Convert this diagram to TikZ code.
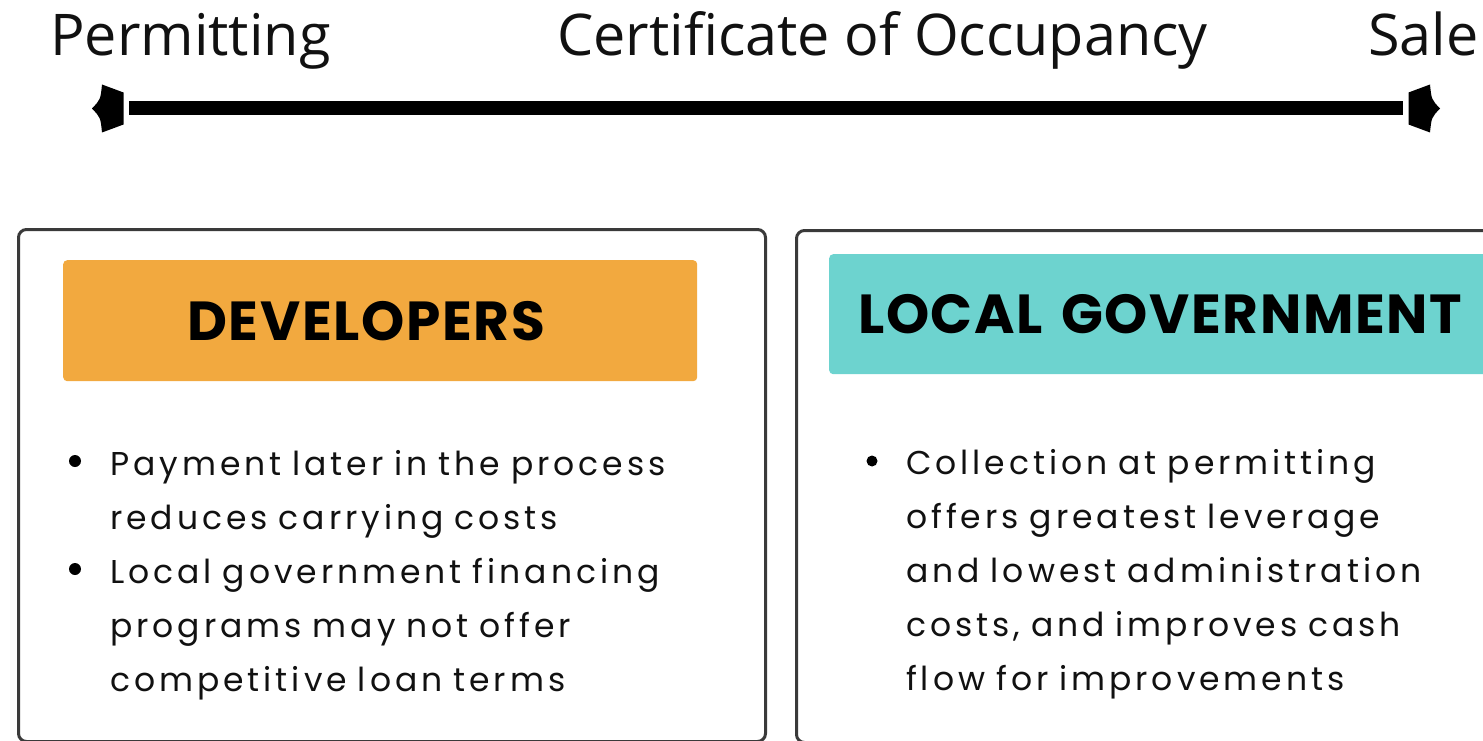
\documentclass[tikz,border=0pt]{standalone}
\usepackage{fontspec}
\setmainfont{Poppins}[LetterSpace=12, WordSpace=1.3]
\newfontfamily\headfont{Poppins}[LetterSpace=3]
\newfontfamily\stagefont{Open Sans}
\usetikzlibrary{positioning}

\definecolor{devorange}{HTML}{F2A93F}
\definecolor{govteal}{HTML}{6DD3CF}
\definecolor{panelgray}{HTML}{3A3A3A}
\definecolor{ink}{HTML}{111111}

\tikzset{
  stage/.style={anchor=base west, inner sep=0, text=ink,
    font=\stagefont\fontsize{57.5}{60}\selectfont},
  panel/.style={draw=panelgray, line width=3pt, rounded corners=8pt,
    minimum width=747pt, minimum height=512pt, inner sep=0},
  header/.style={rounded corners=4pt, minimum height=121pt, align=left,
    inner ysep=0, text=black, font=\headfont\bfseries\fontsize{55}{60}\selectfont},
  bodytext/.style={anchor=base west, inner sep=0, text width=650pt,
    align=left, text=ink, font=\fontsize{33}{54}\selectfont},
  dot/.style={circle, fill=black, inner sep=0, minimum size=12pt},
  pics/tlcap/.style={code={
    \fill (0,-16) -- (-21.5,-24) .. controls (-23,-9) .. (-31.5,0)
      .. controls (-23,9) .. (-21.5,24) -- (0,16) -- cycle;
  }}
}

\begin{document}
\begin{tikzpicture}[x=1pt, y=-1pt]
    \useasboundingbox (0,0) rectangle (1483,741);
    \clip (0,0) rectangle (1483,741);

    % timeline
    \node[stage] (permit) at (50,56) {Permitting};
    \node[stage] (occup) at (557,56) {Certificate of Occupancy};
    \node[stage] (sale) at (1368,56) {Sale};
    \coordinate (tlstart) at (129,108.5);
    \coordinate (tlend) at (1403,108.5);
    \coordinate (capL) at (123.5,108.5);
    \coordinate (capR) at (1408.5,108.5);
    \draw[line width=14pt] (tlstart) -- (tlend);
    \pic at (capL) {tlcap};
    \pic[xscale=-1] at (capR) {tlcap};

    % panels
    \node[panel, anchor=north west] (devpanel) at (17,228) {};
    \node[panel, anchor=north west] (govpanel) at (795,229) {};
    \node[header, fill=devorange, text width=386pt, inner xsep=124pt,
      below right=32pt and 46pt of devpanel.north west] (devhead) {DEVELOPERS};
    \node[header, fill=govteal, minimum height=120pt, text width=660pt, inner xsep=29pt,
      below right=25pt and 34pt of govpanel.north west] (govhead) {LOCAL GOVERNMENT};

    % bullet points
    \node[bodytext] (devA) at (110,475) {Payment later in the process\\reduces carrying costs};
    \node[bodytext] (devB) at (110,583) {Local government financing\\programs may not offer\\competitive loan terms};
    \node[bodytext] (govA) at (906,474) {Collection at permitting\\offers greatest leverage\\and lowest administration\\costs, and improves cash\\flow for improvements};
    \node[dot, xshift=-35pt, yshift=14pt] (devdotA) at (devA.base west) {};
    \node[dot, xshift=-35pt, yshift=14pt] (devdotB) at (devB.base west) {};
    \node[dot, minimum size=11pt, xshift=-34pt, yshift=13pt] (govdotA) at (govA.base west) {};
\end{tikzpicture}
\end{document}
